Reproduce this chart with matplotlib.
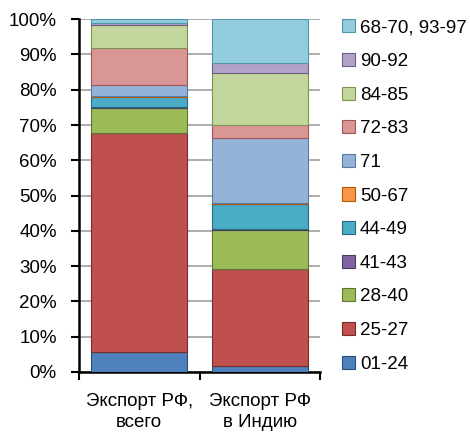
import matplotlib.pyplot as plt
from matplotlib.patches import Patch
import numpy as np

plt.rcParams['font.family'] = ['Liberation Sans', 'DejaVu Sans']

# categories (x) and commodity groups (stack order bottom -> top)
categories = ['Экспорт РФ,\nвсего', 'Экспорт РФ\nв Индию']
groups = ['01-24', '25-27', '28-40', '41-43', '44-49', '50-67',
          '71', '72-83', '84-85', '90-92', '68-70, 93-97']

# shares in %, [всего, в Индию]
share_01_24 = [5.7, 1.7]
share_25_27 = [61.9, 27.5]
share_28_40 = [7.1, 11.0]
share_41_43 = [0.3, 0.3]
share_44_49 = [3.0, 7.0]
share_50_67 = [0.3, 0.3]
share_71 = [3.0, 18.4]
share_72_83 = [10.4, 3.8]
share_84_85 = [6.6, 14.8]
share_90_92 = [0.5, 2.8]
share_68_97 = [1.2, 12.4]

shares = [share_01_24, share_25_27, share_28_40, share_41_43, share_44_49,
          share_50_67, share_71, share_72_83, share_84_85, share_90_92, share_68_97]

colors = ['#4F81BD', '#C0504D', '#9BBB59', '#8064A2', '#4BACC6', '#F79646',
          '#95B3D7', '#D99694', '#C3D69B', '#B3A2C7', '#93CDDD']
edges = ['#2C4D75', '#772C2A', '#5F7530', '#4D3B62', '#276A7C', '#B65708',
          '#5A7BA6', '#9C5856', '#7E9450', '#6E5F85', '#4E96AA']

fig = plt.figure(figsize=(4.7, 4.36), dpi=100)
ax = fig.add_axes([0.168, 0.147, 0.513, 0.809])

x = np.arange(len(categories))
bottom = np.zeros(len(categories))
for vals, c, e, name in zip(shares, colors, edges, groups):
    ax.bar(x, vals, width=0.8, bottom=bottom, color=c, edgecolor=e, linewidth=0.8, label=name, zorder=3)
    bottom += np.array(vals)

ax.set_xlim(-0.5, 1.5)
ax.set_ylim(0, 100)
ax.set_yticks(np.arange(0, 101, 10))
ax.set_yticklabels([str(v) + '%' for v in range(0, 101, 10)], fontsize=13.5)
ax.yaxis.grid(True, color='#A6A6A6', linewidth=1.3, zorder=0)
ax.set_axisbelow(True)

ax.set_xticks(x)
ax.set_xticklabels(categories, fontsize=13.5, linespacing=1.3)
ax.tick_params(axis='x', which='major', length=0, pad=15)
ax.set_xticks([-0.5, 0.5, 1.5], minor=True)
ax.tick_params(axis='x', which='minor', length=6, width=1.5, direction='out')
ax.tick_params(axis='y', length=6, width=1.5, direction='out', pad=10)

for s in ['top', 'right']:
    ax.spines[s].set_visible(False)
ax.spines['left'].set_linewidth(1.8)
ax.spines['bottom'].set_linewidth(1.8)

handles = [Patch(facecolor=c, edgecolor=e, linewidth=0.8) for c, e in zip(colors, edges)]
leg = fig.legend(handles[::-1], groups[::-1], loc='upper left', bbox_to_anchor=(0.712, 0.973),
                 frameon=False, fontsize=13.5, handlelength=0.7, handleheight=0.7,
                 handletextpad=0.25, labelspacing=0.88, borderaxespad=0)

plt.savefig('out.png', dpi=100)
